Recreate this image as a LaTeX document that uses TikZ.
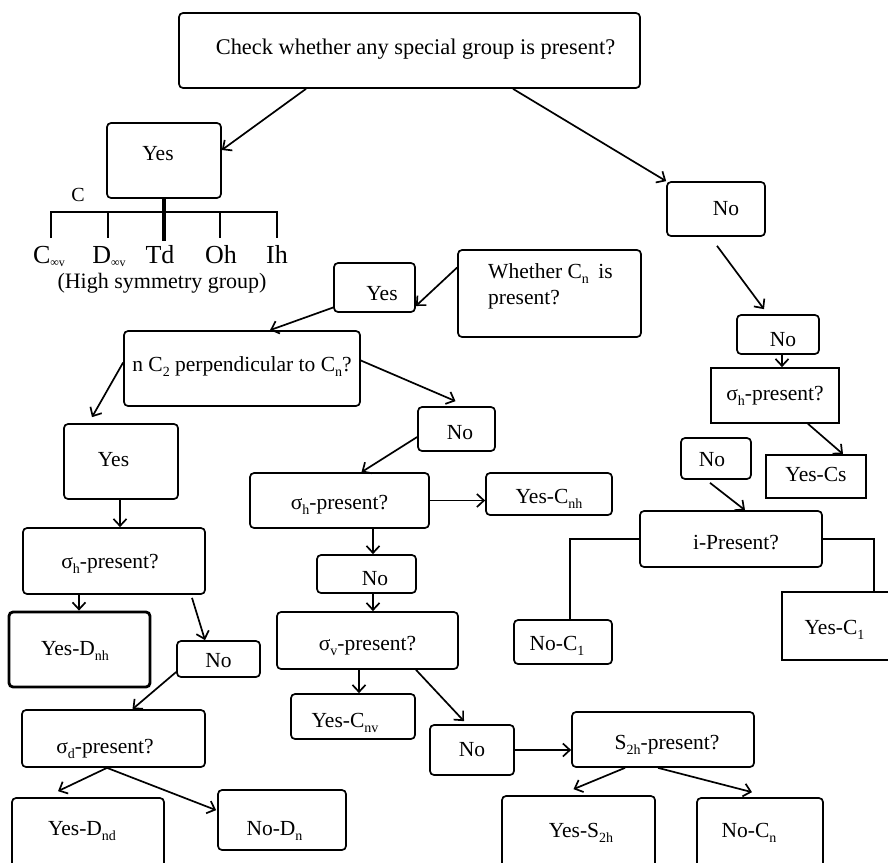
\documentclass[tikz,border=0pt]{standalone}
\usepackage{fontspec}
\setmainfont{Liberation Serif}
\usetikzlibrary{arrows.meta,calc}
\newcommand{\sbs}[1]{\raisebox{-0.25em}{\fontsize{14}{14}\selectfont #1}}
\newcommand{\sbsL}[1]{\raisebox{-0.12em}{\fontsize{12}{12}\selectfont #1}}
\newcommand{\fsA}{\fontsize{21.5}{25}\selectfont}
\newcommand{\fsL}{\fontsize{26}{30}\selectfont}
\begin{document}
\begin{tikzpicture}[x=1pt,y=-1pt,font=\fsA,
  box/.style={draw, rounded corners=4pt, line width=1.7pt, inner sep=0pt, text height=15pt, text depth=5pt},
  sz/.style 2 args={minimum width=#1, minimum height=#2},
  arr/.style={line width=1.7pt, -{Straight Barb[length=7pt,width=13pt]}},
  ln/.style={line width=1.8pt},
  txt/.style={inner sep=0pt}]
\useasboundingbox (0,0) rectangle (888,862);
\fill[white] (0,0) rectangle (888,862);

% ---- boxes ----
\node[box, sz={461}{75}, font=\fontsize{22.4}{26}\selectfont, text height=12.6pt] (top) at (409.5,50.5) {\hspace*{12pt}Check whether any special group is present?};
\node[box, sz={114}{75}, text height=4pt] (yesA) at (164,160.5) {Yes\hspace*{12pt}};

\node[box, sz={98}{54}, text height=17pt] (noR1) at (716,209) {\hspace*{20pt}No};
\node[box, sz={82}{39}, text height=29pt] (noR2) at (778,334.5) {\hspace*{10pt}No};
\node[box, sharp corners, sz={128}{55}, text height=14pt] (shR) at (775,395.5) {σ\sbs{h}-present?};
\node[box, sharp corners, sz={100}{43}, text height=15pt] (yesCs) at (816,476.5) {Yes-Cs};
\node[box, sz={70}{41}, text height=20pt] (noR3) at (716,458.5) {No\hspace*{8pt}};
\node[box, sz={182}{56}, text height=25pt] (iP) at (731,539) {\hspace*{10pt}i-Present?};
\node[box, sz={98}{44}, text height=21pt] (noC1) at (563,642) {No-C\sbs{1}\hspace*{12pt}};
\node[box, sharp corners, sz={110}{68}, text height=21pt] (yesC1) at (837,626) {Yes-C\sbs{1}\hspace*{5pt}};

\node[box, sz={183}{87}] (wh) at (549.5,293.5) {};
\node[txt, anchor=base west] (wht1) at (488,278) {Whether C\sbs{n}\hspace{4pt} is};
\node[txt, anchor=base west] (wht2) at (488,304) {present?};

\node[box, sz={81}{49}, text height=30pt] (yesM) at (374.5,287.5) {\hspace*{15pt}Yes};
\node[box, sz={236}{75}, text height=11pt] (nC2) at (242,368.5) {n C\sbs{2} perpendicular to C\sbs{n}?};
\node[box, sz={77}{44}, text height=25pt] (noM) at (456.5,429) {\hspace*{7pt}No};
\node[box, sz={179}{55}, text height=22pt] (shM) at (339.5,500.5) {σ\sbs{h}-present?};
\node[box, sz={126}{42}, text height=23pt] (yesCnh) at (549,494) {Yes-C\sbs{nh}};
\node[box, sz={99}{38}, text height=27pt] (noM2) at (366.5,574) {\hspace*{17pt}No};
\node[box, sz={181}{57}, text height=24pt] (sv) at (367.5,640.5) {σ\sbs{v}-present?};
\node[box, sz={124}{45}, text height=26pt] (yesCnv) at (353,716.5) {Yes-C\sbs{nv}\hspace*{16pt}};
\node[box, sz={84}{50}, text height=17pt] (noB) at (472,750) {No};
\node[box, sz={182}{55}, text height=24pt] (s2h) at (663,739.5) {\hspace*{8pt}S\sbs{2h}-present?};
\node[box, sz={153}{84}, text height=3pt] (yesS2h) at (578.5,838) {\hspace*{5pt}Yes-S\sbs{2h}};
\node[box, sz={126}{84}, text height=4pt, text depth=10pt] (noCn) at (760,840) {No-C\sbs{n}\hspace*{22pt}};

\node[box, sz={114}{75}, text height=14pt] (yesL) at (121,461.5) {Yes\hspace*{15pt}};
\node[box, sz={182}{66}, text height=19.6pt] (shL) at (114,561) {σ\sbs{h}-present?\hspace*{8pt}};
\node[box, sz={141}{75}, line width=2.8pt, text height=16pt] (yesDnh) at (79.5,649.5) {Yes-D\sbs{nh}\hspace*{9pt}};
\node[box, sz={83}{36}, text height=21.6pt] (noL) at (218.5,659) {No};
\node[box, sz={183}{57}, text height=34pt] (sd) at (113.5,738.5) {σ\sbs{d}-present?\hspace*{17pt}};
\node[box, sz={152}{84}, text height=2pt, text depth=12pt] (yesDnd) at (88,840) {Yes-D\sbs{nd}\hspace*{12pt}};
\node[box, sz={128}{60}, text height=35pt] (noDn) at (282,820) {No-D\sbs{n}\hspace*{15pt}};

% ---- high symmetry tree ----
\coordinate (tb) at (164,241);
\coordinate (hl) at (51,212);
\coordinate (hr) at (277,212);
\coordinate (d1) at (51,238);
\coordinate (d2) at (108,238);
\coordinate (d4) at (220,238);
\coordinate (d5) at (277,238);
\draw[line width=4.2pt] (yesA.south) -- (tb);
\draw[ln] (d1) -- (hl) -- (hr) -- (d5);
\draw[ln] (d2|-hl) -- (d2);
\draw[ln] (d4|-hl) -- (d4);
\node[txt, anchor=base, font=\fontsize{20}{24}\selectfont] (lc) at (78,201) {C};
\node[txt, anchor=base, font=\fsL] (l1) at (49,263) {C\sbsL{∞v}};
\node[txt, anchor=base, font=\fsL] (l2) at (109,263) {D\sbsL{∞v}};
\node[txt, anchor=base, font=\fsL] (l3) at (160,263) {Td};
\node[txt, anchor=base, font=\fsL] (l4) at (221,263) {Oh};
\node[txt, anchor=base, font=\fsL] (l5) at (277,263) {Ih};
\node[txt, anchor=base, font=\fontsize{22}{26}\selectfont] (hsg) at (162,288) {(High symmetry group)};

% ---- connectors ----
\draw[arr] ([xshift=-103.5pt]top.south) -- ([yshift=10.5pt]yesA.east);
\draw[arr] ([xshift=103.5pt]top.south) -- (noR1.north west);
\draw[arr] ([xshift=1pt,yshift=-9pt]noR1.south) -- ([xshift=-14pt,yshift=5pt]noR2.north);
\draw[arr] ([xshift=4pt]noR2.south) -- ([xshift=7pt]shR.north);
\draw[arr] ([xshift=33pt]shR.south) -- ([xshift=27pt]yesCs.north);
\draw[arr] ([xshift=-6pt,yshift=-3pt]noR3.south) -- ([xshift=14pt]iP.north);
\draw[line width=1.7pt] (iP.west) -| ([xshift=7pt]noC1.north);
\draw[line width=1.7pt] (iP.east) -| ([xshift=37pt]yesC1.north);
\draw[arr] ([yshift=26pt]wh.west) -- ([yshift=-18.5pt]yesM.east);
\draw[arr] ([yshift=-20pt]yesM.west) -- ([xshift=28pt]nC2.north);
\draw[arr] ([yshift=6pt]nC2.west) -- ([xshift=-29pt,yshift=6pt]yesL.north);
\draw[arr] ([yshift=8pt]nC2.east) -- ([xshift=-1pt,yshift=5pt]noM.north);
\draw[arr] ([yshift=-8pt]noM.west) -- ([xshift=22pt]shM.north);
\draw[arr] (shM.east) -- (shM.east -| yesCnh.west);
\draw[arr] ([xshift=33.5pt]shM.south) -- ([xshift=6.5pt]noM2.north);
\draw[arr] ([xshift=6.5pt]noM2.south) -- ([xshift=5.5pt]sv.north);
\draw[arr] ([xshift=-8.5pt]sv.south) -- ([xshift=6pt]yesCnv.north);
\draw[arr] ([xshift=48.5pt]sv.south) -- ([xshift=-8pt,yshift=3pt]noB.north);
\draw[arr] (noB.east) -- (noB.east -| s2h.west);
\draw[arr] ([xshift=-38pt]s2h.south) -- ([xshift=-5pt,yshift=6pt]yesS2h.north);
\draw[arr] ([xshift=-5pt]s2h.south) -- ([xshift=-8pt,yshift=5pt]noCn.north);
\draw[arr] ([xshift=-1pt]yesL.south) -- ([xshift=6pt]shL.north);
\draw[arr] ([xshift=-35pt]shL.south) -- ([xshift=-0.5pt]yesDnh.north);
\draw[arr] ([xshift=78pt,yshift=-3pt]shL.south) -- ([xshift=-13.5pt]noL.north);
\draw[arr] ([yshift=-13pt]noL.west) -- ([xshift=19pt]sd.north);
\draw[arr] ([xshift=-6.5pt]sd.south) -- ([xshift=-30pt,yshift=6pt]yesDnd.north);
\draw[arr] ([xshift=-6.5pt]sd.south) -- ([xshift=-1pt,yshift=-21pt]noDn.north west);
\end{tikzpicture}
\end{document}
